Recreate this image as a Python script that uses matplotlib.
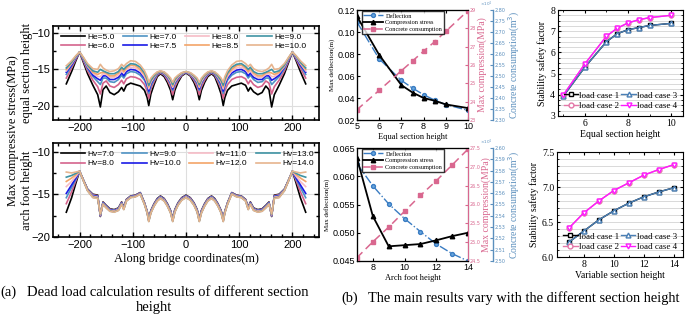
import numpy as np
import matplotlib
matplotlib.use('Agg')
import matplotlib.pyplot as plt
from matplotlib.ticker import MultipleLocator

SERIF = 'Liberation Serif'
SANS = 'Liberation Sans'

# ---------- (a) 沿桥应力, 左半跨 (关于 x=0 对称) ----------
x_half = [-225, -215, -207, -200, -193, -185, -175, -166, -161, -156, -150, -143, -135, -127, -121, -117, -112,
          -104, -95, -86, -78, -73, -70, -66, -60, -54, -48, -41, -35, -29, -25, -21, -15, -8, 0]

he_labels = ['He=5.0', 'He=6.0', 'He=7.0', 'He=7.5', 'He=8.0', 'He=8.5', 'He=9.0', 'He=10.0']
he_50 = [-17.0, -15.3, -13.8, -12.6, -14.0, -15.6, -17.2, -18.5, -20.2, -17.8, -17.3, -18.2, -18.5, -18.1, -17.5, -18.0, -17.2,
         -16.9, -17.1, -17.3, -17.9, -18.9, -20.0, -18.4, -17.1, -16.0, -15.6, -16.0, -16.8, -17.9, -19.2, -17.9, -16.8, -15.9, -15.5]
he_60 = [-16.2, -14.8, -13.6, -12.6, -13.8, -15.2, -16.5, -17.4, -18.4, -16.9, -16.6, -17.3, -17.5, -17.1, -16.5, -17.0, -16.3,
         -16.0, -16.1, -16.4, -17.1, -18.0, -19.0, -17.7, -16.7, -15.8, -15.5, -15.8, -16.5, -17.4, -18.5, -17.4, -16.5, -15.8, -15.4]
he_70 = [-15.7, -14.5, -13.4, -12.6, -13.6, -14.9, -16.0, -16.7, -17.1, -16.2, -16.2, -16.7, -16.8, -16.4, -15.8, -16.2, -15.6,
         -15.3, -15.4, -15.8, -16.5, -17.4, -18.3, -17.3, -16.4, -15.7, -15.4, -15.7, -16.2, -17.0, -17.9, -17.0, -16.3, -15.7, -15.4]
he_75 = [-15.4, -14.4, -13.4, -12.6, -13.6, -14.7, -15.8, -16.3, -16.5, -15.9, -15.9, -16.4, -16.4, -16.1, -15.5, -15.9, -15.3,
         -15.0, -15.1, -15.5, -16.2, -17.1, -18.0, -17.0, -16.2, -15.6, -15.35, -15.6, -16.1, -16.8, -17.7, -16.8, -16.2, -15.6, -15.4]
he_80 = [-15.2, -14.2, -13.3, -12.6, -13.5, -14.6, -15.5, -16.0, -16.0, -15.6, -15.7, -16.1, -16.1, -15.8, -15.2, -15.5, -15.0,
         -14.7, -14.8, -15.2, -16.0, -16.8, -17.7, -16.8, -16.1, -15.5, -15.3, -15.5, -16.0, -16.7, -17.5, -16.7, -16.1, -15.6, -15.35]
he_85 = [-15.0, -14.1, -13.2, -12.6, -13.4, -14.5, -15.4, -15.7, -15.5, -15.4, -15.5, -15.9, -15.9, -15.5, -14.9, -15.3, -14.8,
         -14.4, -14.5, -15.0, -15.7, -16.6, -17.4, -16.6, -16.0, -15.5, -15.3, -15.5, -15.9, -16.5, -17.3, -16.5, -16.0, -15.5, -15.35]
he_90 = [-14.8, -14.0, -13.2, -12.6, -13.4, -14.4, -15.2, -15.4, -15.0, -15.2, -15.4, -15.6, -15.6, -15.3, -14.7, -15.0, -14.6,
         -14.2, -14.3, -14.7, -15.5, -16.3, -17.2, -16.5, -15.9, -15.4, -15.25, -15.4, -15.8, -16.4, -17.1, -16.4, -15.9, -15.5, -15.3]
he_100 = [-14.5, -13.8, -13.1, -12.6, -13.3, -14.2, -14.9, -15.0, -14.3, -14.8, -15.1, -15.3, -15.2, -14.9, -14.3, -14.6, -14.2,
          -13.8, -13.9, -14.4, -15.2, -16.0, -16.8, -16.2, -15.7, -15.35, -15.2, -15.35, -15.7, -16.2, -16.8, -16.2, -15.8, -15.45, -15.3]

hv_labels = ['Hv=7.0', 'Hv=8.0', 'Hv=9.0', 'Hv=10.0', 'Hv=11.0', 'Hv=12.0', 'Hv=13.0', 'Hv=14.0']
hv_70 = [-17.1, -15.4, -13.7, -12.3, -13.3, -14.4, -15.0, -15.1, -17.6, -15.9, -16.3, -16.7, -16.8, -16.6, -15.9, -16.5, -15.6,
         -15.2, -15.1, -14.8, -16.0, -17.0, -17.9, -16.9, -16.1, -15.5, -15.2, -15.5, -16.1, -16.9, -17.9, -16.8, -16.0, -15.4, -15.1]
hv_80 = [-16.1, -14.7, -13.4, -12.3, -13.32, -14.43, -15.06, -15.16, -17.55, -15.95, -16.35, -16.75, -16.85, -16.65, -15.95, -16.55, -15.63,
         -15.23, -15.13, -14.83, -16.03, -17.03, -17.95, -16.95, -16.15, -15.55, -15.25, -15.55, -16.15, -16.95, -17.95, -16.85, -16.05, -15.45, -15.15]
hv_90 = [-15.4, -14.2, -13.2, -12.3, -13.33, -14.46, -15.12, -15.22, -17.51, -15.99, -16.39, -16.79, -16.89, -16.69, -15.99, -16.59, -15.66,
         -15.26, -15.16, -14.86, -16.06, -17.06, -17.99, -16.99, -16.19, -15.59, -15.29, -15.59, -16.19, -16.99, -17.99, -16.89, -16.09, -15.49, -15.19]
hv_100 = [-14.9, -13.9, -13.1, -12.3, -13.35, -14.49, -15.18, -15.28, -17.47, -16.04, -16.44, -16.84, -16.94, -16.74, -16.04, -16.64, -15.69,
          -15.29, -15.19, -14.89, -16.09, -17.09, -18.04, -17.04, -16.24, -15.64, -15.34, -15.64, -16.24, -17.04, -18.04, -16.94, -16.14, -15.54, -15.24]
hv_110 = [-14.1, -13.5, -12.9, -12.3, -13.36, -14.52, -15.24, -15.34, -17.42, -16.08, -16.48, -16.88, -16.98, -16.78, -16.08, -16.68, -15.72,
          -15.32, -15.22, -14.92, -16.12, -17.12, -18.08, -17.08, -16.28, -15.68, -15.38, -15.68, -16.28, -17.08, -18.08, -16.98, -16.18, -15.58, -15.28]
hv_120 = [-13.5, -13.1, -12.7, -12.3, -13.38, -14.55, -15.3, -15.4, -17.38, -16.13, -16.53, -16.93, -17.03, -16.83, -16.13, -16.73, -15.75,
          -15.35, -15.25, -14.95, -16.15, -17.15, -18.13, -17.13, -16.33, -15.73, -15.43, -15.73, -16.33, -17.13, -18.13, -17.03, -16.23, -15.63, -15.33]
hv_130 = [-13.0, -12.8, -12.55, -12.3, -13.39, -14.58, -15.36, -15.46, -17.33, -16.17, -16.57, -16.97, -17.07, -16.87, -16.17, -16.77, -15.78,
          -15.38, -15.28, -14.98, -16.18, -17.18, -18.17, -17.17, -16.37, -15.77, -15.47, -15.77, -16.37, -17.17, -18.17, -17.07, -16.27, -15.67, -15.37]
hv_140 = [-12.4, -12.5, -12.4, -12.3, -13.4, -14.6, -15.4, -15.5, -17.3, -16.2, -16.6, -17.0, -17.1, -16.9, -16.2, -16.8, -15.8,
          -15.4, -15.3, -15.0, -16.2, -17.2, -18.2, -17.2, -16.4, -15.8, -15.5, -15.8, -16.4, -17.2, -18.2, -17.1, -16.3, -15.7, -15.4]

line_colors = ['#000000', '#d4638c', '#4f93c4', '#1a1ae6', '#f6bcc6', '#f3a468', '#3f93a3', '#e6b48e']

# ---------- (b) 中间: 挠度/应力/混凝土用量 ----------
x_eq = [5, 6, 7, 7.5, 8, 8.5, 9, 10]
defl_eq = [0.109, 0.0755, 0.056, 0.049, 0.043, 0.038, 0.034, 0.0288]
stress_eq = [28.65, 26.55, 24.9, 24.5, 24.2, 24.05, 23.85, 23.65]
conc_eq = [2.347, 2.435, 2.524, 2.568, 2.613, 2.656, 2.703, 2.797]  # x10^4

x_af = [7, 8, 9, 10, 11, 12, 13, 14]
defl_af = [0.0622, 0.0583, 0.0551, 0.0525, 0.0502, 0.0480, 0.0463, 0.0450]
stress_af = [27.23, 25.69, 24.89, 24.92, 24.95, 25.05, 25.16, 25.25]
conc_af = [2.503, 2.517, 2.530, 2.544, 2.558, 2.571, 2.585, 2.599]  # x10^4

# ---------- (b) 右侧: 稳定安全系数 ----------
lc_labels = ['load case 1', 'load case 2', 'load case 3', 'load case 4']
x_st_eq = [5, 6, 7, 7.5, 8, 8.5, 9, 10]
lc1_eq = [3.93, 5.3, 6.5, 6.88, 7.07, 7.17, 7.27, 7.37]
lc2_eq = [3.98, 5.45, 6.76, 7.14, 7.39, 7.54, 7.64, 7.75]
lc3_eq = [3.93, 5.3, 6.5, 6.88, 7.07, 7.17, 7.27, 7.37]
lc4_eq = [3.98, 5.45, 6.76, 7.14, 7.39, 7.54, 7.64, 7.75]

x_st_vs = [7, 8, 9, 10, 11, 12, 13, 14]
lc1_vs = [6.21, 6.37, 6.53, 6.66, 6.77, 6.86, 6.93, 6.99]
lc2_vs = [6.41, 6.63, 6.80, 6.95, 7.06, 7.17, 7.25, 7.32]
lc3_vs = [6.21, 6.37, 6.53, 6.66, 6.77, 6.86, 6.93, 6.99]
lc4_vs = [6.41, 6.63, 6.80, 6.95, 7.06, 7.17, 7.25, 7.32]

C_PINK = '#d9678f'
C_BLUE = '#5b8fbd'


def mirror_x(xh):
    xh = np.asarray(xh, dtype=float)
    return np.concatenate([xh, -xh[-2::-1]])


def mirror_y(yh):
    yh = np.asarray(yh, dtype=float)
    return np.concatenate([yh, yh[-2::-1]])


def style_a(ax, ylim):
    ax.set_xlim(-250, 250)
    ax.set_ylim(*ylim)
    ax.xaxis.set_major_locator(MultipleLocator(100))
    ax.xaxis.set_minor_locator(MultipleLocator(20))
    ax.yaxis.set_major_locator(MultipleLocator(5))
    ax.yaxis.set_minor_locator(MultipleLocator(2.5))
    ax.tick_params(which='both', direction='in', top=True, right=True, width=1)
    ax.tick_params(which='major', length=3.5, labelsize=8, pad=2)
    ax.tick_params(which='minor', length=2)
    for lab in ax.get_xticklabels() + ax.get_yticklabels():
        lab.set_family(SANS)
    ax.grid(True, which='major', color='#dedede', lw=0.8)
    ax.set_axisbelow(True)
    for s in ax.spines.values():
        s.set_linewidth(1.2)


def panel_a(ax, xh, series, labels, ylim):
    xx = mirror_x(xh)
    for ys, lab, c in zip(series, labels, line_colors):
        ax.plot(xx, mirror_y(ys), color=c, lw=1.2, label=lab)
    style_a(ax, ylim)
    ax.legend(ncol=4, loc='upper left', bbox_to_anchor=(0.0, 1.0), frameon=False,
              prop={'family': SANS, 'size': 6}, handlelength=2.9, columnspacing=1.0,
              handletextpad=0.3, labelspacing=0.15, borderaxespad=0.5)


def panel_mid(ax, x, defl, stress, conc, xlim, dlim, dstep, slim, sstep, clim, cstep, xticks, xlabel):
    ax2 = ax.twinx()
    ax3 = ax.twinx()
    ax3.spines['right'].set_position(('axes', 1.225))
    l1, = ax.plot(x, defl, '-.o', color='#3a7cc2', mfc='#6aa8e0', mec='#3a7cc2', ms=2.8, lw=1.0, label='Deflection')
    l2, = ax2.plot(x, stress, '-^', color='k', ms=3.2, lw=1.3, label='Compression stress')
    l3, = ax3.plot(x, conc, '--s', color=C_PINK, ms=2.8, lw=1.1, dashes=(5, 3), label='Concrete consumption')
    ax.set_xlim(*xlim)
    ax.set_ylim(*dlim)
    ax2.set_ylim(*slim)
    ax3.set_ylim(*clim)
    ax.set_xticks(xticks)
    ax.yaxis.set_major_locator(MultipleLocator(dstep))
    ax2.yaxis.set_major_locator(MultipleLocator(sstep))
    ax3.yaxis.set_major_locator(MultipleLocator(cstep))
    ax.tick_params(direction='in', length=2.5, labelsize=6.5, pad=1.5, top=True)
    for lab in ax.get_xticklabels() + ax.get_yticklabels():
        lab.set_family(SANS)
    ax2.tick_params(direction='in', length=2, labelsize=3.5, pad=1, colors=C_PINK)
    ax3.tick_params(direction='in', length=2, labelsize=3.5, pad=1, colors=C_BLUE)
    ax2.spines['right'].set_color(C_PINK)
    ax3.spines['right'].set_color(C_BLUE)
    ax3.spines['right'].set_linewidth(1.0)
    ax.set_ylabel('Max deflection(m)', family=SERIF, fontsize=5, labelpad=2)
    ax2.set_ylabel('Max compression(MPa)', family=SERIF, fontsize=7, color=C_PINK, labelpad=1)
    ax3.set_ylabel('Concrete consumption(m$^3$)', family=SERIF, fontsize=7, color=C_BLUE, labelpad=1)
    ax3.text(1.22, 1.005, r'$\times10^4$', transform=ax.transAxes, fontsize=3, color=C_BLUE,
             ha='right', va='bottom')
    ax.set_xlabel(xlabel, family=SERIF, fontsize=6, labelpad=1.5)
    leg = ax3.legend(handles=[l1, l2, l3], loc='upper left', bbox_to_anchor=(0.03, 1.0),
                     prop={'family': SERIF, 'size': 4.5}, fancybox=False, edgecolor='k',
                     handlelength=3.2, labelspacing=0.2, borderpad=0.3, handletextpad=0.3,
                     borderaxespad=0.2)
    leg.get_frame().set_linewidth(1.0)


def panel_right(ax, x, lc1, lc2, lc3, lc4, xlim, ylim, ystep, yminor, xlabel, xticks):
    ax.plot(x, lc1, '-s', color='k', mfc='white', ms=3.5, lw=1.0, label=lc_labels[0])
    ax.plot(x, lc2, '-o', color='#e377a8', mfc='white', ms=3.5, lw=1.0, label=lc_labels[1])
    ax.plot(x, lc3, '-^', color='#4a7fb5', mfc='white', ms=3.5, lw=1.0, label=lc_labels[2])
    ax.plot(x, lc4, '-v', color='#ff1aff', mfc='white', ms=3.5, lw=1.0, label=lc_labels[3])
    ax.set_xlim(*xlim)
    ax.set_ylim(*ylim)
    ax.set_xticks(xticks)
    ax.xaxis.set_minor_locator(MultipleLocator(1))
    ax.yaxis.set_major_locator(MultipleLocator(ystep))
    ax.yaxis.set_minor_locator(MultipleLocator(yminor))
    ax.grid(True, which='both', axis='y', color='#d9d9d9', lw=0.7)
    ax.set_axisbelow(True)
    ax.tick_params(which='both', direction='in', top=True, right=True)
    ax.tick_params(which='major', length=2.5, labelsize=7, pad=2)
    ax.tick_params(which='minor', length=1.5)
    for lab in ax.get_xticklabels() + ax.get_yticklabels():
        lab.set_family(SERIF)
    ax.set_ylabel('Stability safety factor', family=SERIF, fontsize=7, labelpad=2)
    ax.set_xlabel(xlabel, family=SERIF, fontsize=7, labelpad=1.5)
    ax.legend(ncol=2, loc='lower center', bbox_to_anchor=(0.5, 0.0), frameon=False,
              prop={'family': SERIF, 'size': 6.5}, handlelength=1.6, columnspacing=0.2,
              handletextpad=0.15, labelspacing=0.2, borderaxespad=0.3)


fig = plt.figure(figsize=(6.85, 3.17), dpi=100)
W, H = 685.0, 317.0


def add_ax(l, t, r, b):
    return fig.add_axes([l / W, 1 - b / H, (r - l) / W, (b - t) / H])


ax_top = add_ax(53, 26, 319, 120)
ax_bot = add_ax(53, 143, 319, 237)
panel_a(ax_top, x_half, [he_50, he_60, he_70, he_75, he_80, he_85, he_90, he_100], he_labels, (-22, -9))
panel_a(ax_bot, x_half, [hv_70, hv_80, hv_90, hv_100, hv_110, hv_120, hv_130, hv_140], hv_labels, (-20, -9))
ax_bot.set_xlabel('Along bridge coordinates(m)', family=SERIF, fontsize=9, labelpad=2)

fig.text(13 / W, 1 - 131 / H, 'Max compressive stress(MPa)', rotation=90, family=SERIF, fontsize=9,
         ha='center', va='center')
fig.text(27 / W, 1 - 73 / H, 'equal section height', rotation=90, family=SERIF, fontsize=9,
         ha='center', va='center')
fig.text(27 / W, 1 - 190 / H, 'arch foot height', rotation=90, family=SERIF, fontsize=9,
         ha='center', va='center')

ax_m1 = add_ax(357, 10, 468, 120)
ax_m2 = add_ax(357, 148, 468, 261)
panel_mid(ax_m1, x_eq, defl_eq, stress_eq, conc_eq, (5, 10), (0.02, 0.12), 0.02, (23, 29), 1,
          (2.3, 2.8), 0.05, [5, 6, 7, 8, 9, 10], 'Equal section height')
panel_mid(ax_m2, x_af, defl_af, stress_af, conc_af, (7, 14), (0.045, 0.065), 0.005, (24.5, 27.5), 0.5,
          (2.5, 2.6), 0.01, [8, 10, 12, 14], 'Arch foot height')

ax_r1 = add_ax(558, 10, 683, 116)
ax_r2 = add_ax(557, 152, 683, 257)
panel_right(ax_r1, x_st_eq, lc1_eq, lc2_eq, lc3_eq, lc4_eq, (4.76, 10.55), (3, 8), 1, 0.25,
            'Equal section height', [6, 8, 10])
panel_right(ax_r2, x_st_vs, lc1_vs, lc2_vs, lc3_vs, lc4_vs, (6.22, 14.6), (6, 7.5), 0.5, 0.1,
            'Variable section height', [8, 10, 12, 14])

# 图注
fig.text(0.5 / W, 1 - 292 / H, '(a)', family=SERIF, fontsize=10.5, ha='left', va='center')
fig.text(27 / W, 1 - 292 / H, 'Dead load calculation results of different section', family=SERIF,
         fontsize=10.5, ha='left', va='center')
fig.text(154 / W, 1 - 307 / H, 'height', family=SERIF, fontsize=10.5, ha='center', va='center')
fig.text(341 / W, 1 - 298 / H, '(b)', family=SERIF, fontsize=10.4, ha='left', va='center')
fig.text(368 / W, 1 - 298 / H, 'The main results vary with the different section height', family=SERIF,
         fontsize=10.4, ha='left', va='center')

fig.savefig('out.png', dpi=100)
